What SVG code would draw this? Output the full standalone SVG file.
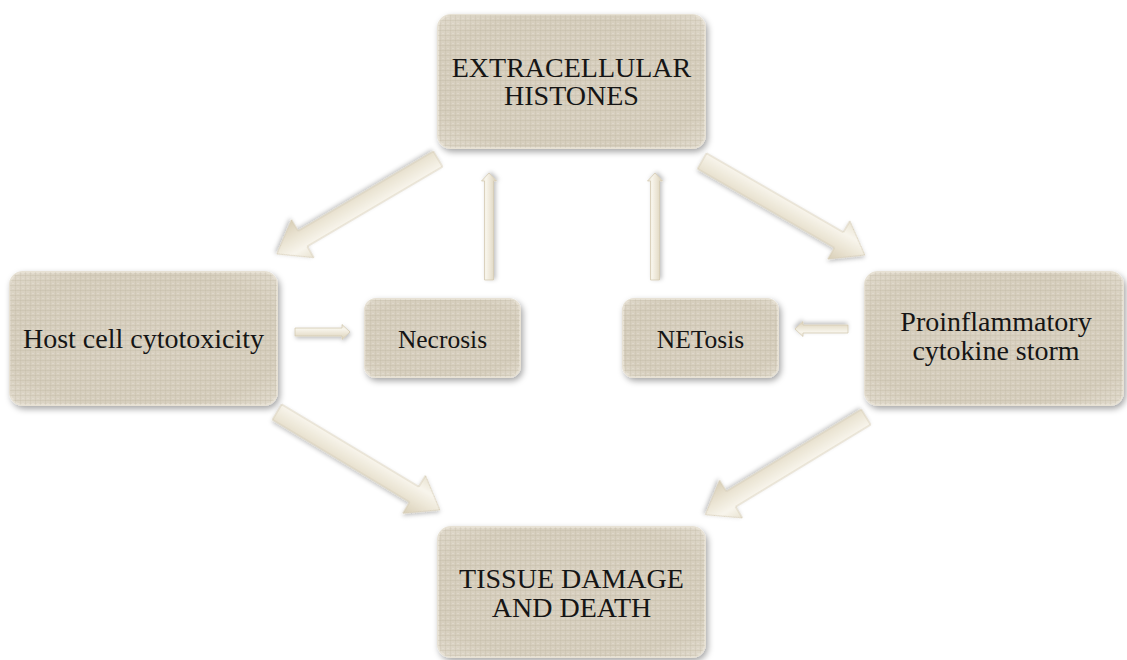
<svg xmlns="http://www.w3.org/2000/svg" width="1127" height="660" viewBox="0 0 1127 660">
<style>
.lbl{font-family:"Liberation Serif","Times New Roman",serif;fill:#151515;text-anchor:middle}
.big{font-size:28px}
.sm{font-size:25.5px}
.box{fill:url(#boxGrad);stroke:#e7e1d4;stroke-width:2;filter:url(#shadow)}
.tex{fill:url(#weave);pointer-events:none}
.arr{fill:url(#arrGrad);stroke:#d4cab2;stroke-width:0.8;filter:url(#ashadow)}
</style>
<defs>
<filter id="shadow" x="-10%" y="-10%" width="125%" height="130%">
<feDropShadow dx="2" dy="3" stdDeviation="3" flood-color="#000" flood-opacity="0.35"/>
</filter>
<filter id="ashadow" x="-20%" y="-40%" width="140%" height="180%">
<feDropShadow dx="1" dy="2" stdDeviation="2" flood-color="#000" flood-opacity="0.25"/>
</filter>
<radialGradient id="boxGrad" cx="50%" cy="50%" r="75%">
<stop offset="0" stop-color="#d8d0c0"/>
<stop offset="0.7" stop-color="#d6cebd"/>
<stop offset="1" stop-color="#e2dccf"/>
</radialGradient>
<linearGradient id="arrGrad" x1="0" y1="0" x2="0" y2="1">
<stop offset="0" stop-color="#e9e3d2"/>
<stop offset="0.3" stop-color="#f8f5ec"/>
<stop offset="0.6" stop-color="#ece6d6"/>
<stop offset="1" stop-color="#d9cfb7"/>
</linearGradient>
<pattern id="weave" width="5" height="5" patternUnits="userSpaceOnUse">
<rect x="0" y="0" width="5" height="1" fill="#b8ae99" opacity="0.25"/>
<rect x="0" y="0" width="1" height="5" fill="#b8ae99" opacity="0.2"/>
<rect x="2" y="3" width="2" height="1" fill="#f2eee5" opacity="0.3"/>
</pattern>
</defs>

<g id="connectors">
<g transform="translate(438,159) rotate(149.5)"><path class="arr" d="M0,-9 L157,-9 L157,-22 L187,0 L157,22 L157,9 L0,9 Z"/></g>
<g transform="translate(702,161) rotate(30)"><path class="arr" d="M0,-9 L158,-9 L158,-22 L188,0 L158,22 L158,9 L0,9 Z"/></g>
<g transform="translate(277,412) rotate(31)"><path class="arr" d="M0,-9 L160,-9 L160,-22 L190,0 L160,22 L160,9 L0,9 Z"/></g>
<g transform="translate(866,417) rotate(148.7)"><path class="arr" d="M0,-9 L158,-9 L158,-22 L188,0 L158,22 L158,9 L0,9 Z"/></g>
<g transform="translate(489,280) rotate(-90)"><path class="arr" d="M0,-4.5 L99,-4.5 L99,-7.5 L107,0 L99,7.5 L99,4.5 L0,4.5 Z"/></g>
<g transform="translate(655,280) rotate(-90)"><path class="arr" d="M0,-4.5 L99,-4.5 L99,-7.5 L107,0 L99,7.5 L99,4.5 L0,4.5 Z"/></g>
<g transform="translate(295,332)"><path class="arr" d="M0,-4 L47,-4 L47,-7.5 L55,0 L47,7.5 L47,4 L0,4 Z"/></g>
<g transform="translate(848,329) rotate(180)"><path class="arr" d="M0,-4 L45,-4 L45,-7.5 L53,0 L45,7.5 L45,4 L0,4 Z"/></g>
</g>

<g id="node-histones">
<rect class="box" x="438" y="15" width="267" height="133" rx="13"/>
<rect class="tex" x="438" y="15" width="267" height="133" rx="13"/>
<text class="lbl big" x="571.5" y="77">EXTRACELLULAR</text>
<text class="lbl big" x="571.5" y="105">HISTONES</text>
</g>

<g id="node-host">
<rect class="box" x="10" y="272" width="267" height="133" rx="13"/>
<rect class="tex" x="10" y="272" width="267" height="133" rx="13"/>
<text class="lbl big" x="143.5" y="348">Host cell cytotoxicity</text>
</g>

<g id="node-necrosis">
<rect class="box" x="365" y="299" width="155" height="78" rx="11"/>
<rect class="tex" x="365" y="299" width="155" height="78" rx="11"/>
<text class="lbl sm" x="442.5" y="348">Necrosis</text>
</g>

<g id="node-netosis">
<rect class="box" x="623" y="299" width="155" height="78" rx="11"/>
<rect class="tex" x="623" y="299" width="155" height="78" rx="11"/>
<text class="lbl sm" x="700.5" y="348">NETosis</text>
</g>

<g id="node-cytokine">
<rect class="box" x="865" y="272" width="258" height="133" rx="13"/>
<rect class="tex" x="865" y="272" width="258" height="133" rx="13"/>
<text class="lbl big" x="996" y="331">Proinflammatory</text>
<text class="lbl big" x="996" y="360">cytokine storm</text>
</g>

<g id="node-tissue">
<rect class="box" x="438" y="527" width="267" height="130" rx="13"/>
<rect class="tex" x="438" y="527" width="267" height="130" rx="13"/>
<text class="lbl big" x="571.5" y="588">TISSUE DAMAGE</text>
<text class="lbl big" x="571.5" y="617">AND DEATH</text>
</g>
</svg>
